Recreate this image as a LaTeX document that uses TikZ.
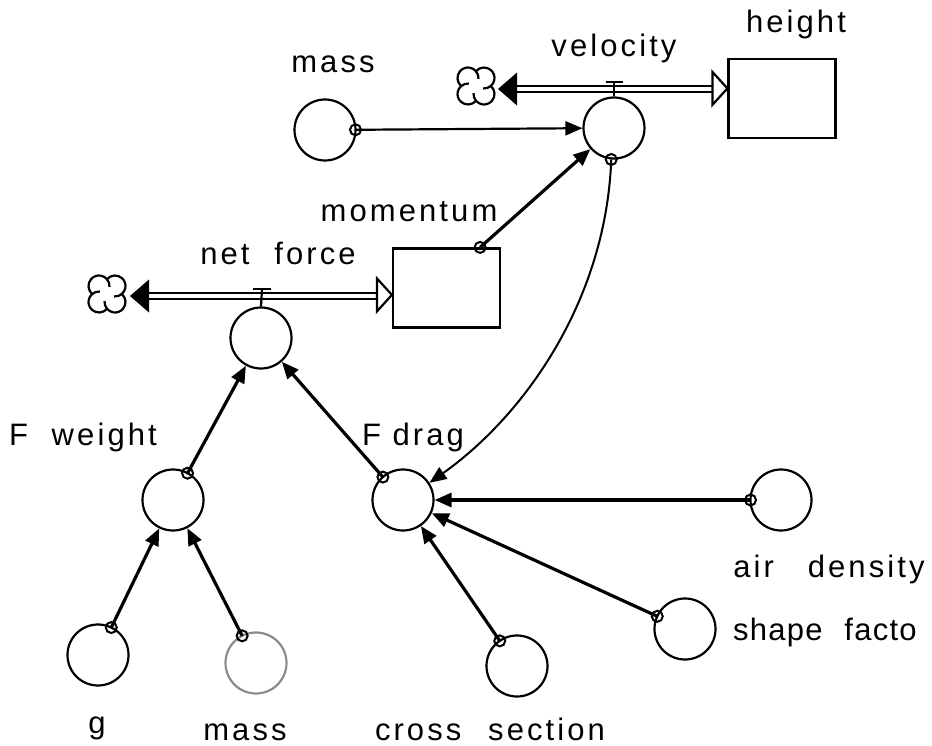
\documentclass[tikz,border=0pt]{standalone}
\usepackage{fontspec}
\setmainfont{Liberation Sans}[LetterSpace=10]
\usetikzlibrary{arrows.meta,calc}
\begin{document}
\begin{tikzpicture}[x=1pt,y=-1pt,
  aux/.style={circle,draw,line width=2.2pt,minimum size=61pt,inner sep=0pt},
  stock/.style={rectangle,draw,line width=2.2pt,minimum width=107pt,minimum height=79pt,inner sep=0pt},
  lbl/.style={anchor=base,inner sep=0pt,font=\fontsize{31pt}{36pt}\selectfont},
  link/.style={line width=3.2pt,-{Triangle[length=17pt,width=14pt]}},
  thinlink/.style={line width=2.2pt,-{Triangle[length=17pt,width=14pt]}},
  curvelink/.style={line width=2pt,-{Triangle[length=17pt,width=14pt]}},
  tail/.style={circle,draw,line width=2pt,minimum size=11pt,inner sep=0pt},
  flowline/.style={draw,double,line width=2.7pt,double distance=3.5pt},
  valve/.style={line width=2.2pt},
  hollowtip/.style={line width=2.2pt,fill=white,line join=miter},
  cloudpic/.pic={
    \filldraw[fill=white,line width=2.2pt] (14.8,0)
      arc[start angle=-49.6,end angle=139.6,radius=10.5]
      arc[start angle=40.4,end angle=229.6,radius=10.5]
      arc[start angle=130.4,end angle=319.6,radius=10.5]
      arc[start angle=220.4,end angle=409.6,radius=10.5] -- cycle;
    \draw[line width=2.2pt] (0,14.8) arc[start angle=139.6,end angle=185,radius=10.5];
    \draw[line width=2.2pt] (-14.8,0) arc[start angle=229.6,end angle=275,radius=10.5];
    \draw[line width=2.2pt] (0,-14.8) arc[start angle=319.6,end angle=365,radius=10.5];
    \draw[line width=2.2pt] (14.8,0) arc[start angle=409.6,end angle=455,radius=10.5];
  }
]
\useasboundingbox (0,0) rectangle (932,746);
\fill[white] (0,0) rectangle (932,746);

% stocks
\node[stock] (height) at (782,98.5) {};
\node[stock] (momentum) at (446.5,288) {};

% auxiliaries / flows
\node[aux] (vel) at (614,128) {};
\node[aux] (massT) at (325,130) {};
\node[aux] (netf) at (261,338) {};
\node[aux] (fweight) at (173,500) {};
\node[aux] (fdrag) at (403,500) {};
\node[aux] (air) at (781,500) {};
\node[aux] (shape) at (685,629) {};
\node[aux] (cross) at (517,666) {};
\node[aux] (g) at (98,655) {};
\node[aux,draw=black!45] (massB) at (256,663) {};

% flow: velocity
\coordinate (cl1) at (476,86);
\coordinate (f1s) at (498,89);
\coordinate (f1e) at ($(height.north west)+(0,30.5)$);
\pic at (cl1) {cloudpic};
\draw[flowline] (517,89) -- (715,89);
\fill (f1s) -- ++(19,-16.5) -- ++(0,33) -- cycle;
\draw[hollowtip] (f1e) -- ++(-15,-16.5) -- ++(0,33) -- cycle;
\draw[valve] (vel.north) -- (614,82);
\draw[valve] (605.5,82) -- (622.5,82);

% flow: net force
\coordinate (cl2) at (107,294);
\coordinate (f2s) at (130,296);
\coordinate (f2e) at ($(momentum.north west)+(0,47.5)$);
\pic at (cl2) {cloudpic};
\draw[flowline] (149,296) -- (380,296);
\fill (f2s) -- ++(19,-16.5) -- ++(0,33) -- cycle;
\draw[hollowtip] (f2e) -- ++(-15,-16.5) -- ++(0,33) -- cycle;
\draw[valve] (netf.north) -- (262,289);
\draw[valve] (253,289) -- (271,289);

% connectors
\node[tail] (t1) at ($(massT)!30.5pt!(vel)$) {};
\draw[thinlink] (t1.center) -- (vel);

\node[tail] (t2) at ($(momentum.north east)+(-21,0)$) {};
\draw[link] (t2.center) -- (vel);

\node[tail] (t3) at (vel.-95) {};
\draw[curvelink] (t3.center) .. controls (606,300) and (525,415) .. (fdrag.33);

\node[tail] (t4) at ($(fweight)!30.5pt!(netf)$) {};
\draw[link] (t4.center) -- (netf);

\node[tail] (t5) at ($(fdrag)!30.5pt!(netf)$) {};
\draw[link] (t5.center) -- (netf);

\node[tail] (t6) at ($(air)!30.5pt!(fdrag)$) {};
\draw[link] (t6.center) -- (fdrag);

\node[tail] (t7) at ($(shape)!30.5pt!(fdrag)$) {};
\draw[link] (t7.center) -- (fdrag);

\node[tail] (t8) at ($(cross)!30.5pt!(fdrag)$) {};
\draw[link] (t8.center) -- (fdrag);

\node[tail] (t9) at ($(g)!30.5pt!(fweight)$) {};
\draw[link] (t9.center) -- (fweight);

\node[tail] (t10) at ($(massB)!30.5pt!(fweight)$) {};
\draw[link] (t10.center) -- (fweight);

% labels
\node[lbl] (lmassT) at (333,73) {mass};
\node[lbl] (lvel) at (614,57) {velocity};
\node[lbl] (lheight) at (796,33) {height};
\node[lbl] (lmom) at (409,222) {momentum};
\node[lbl] (lnetf) at (278,265) {net\hspace{13pt} force};
\node[lbl] (lfw) at (83,445) {F\hspace{12pt} weight};
\node[lbl] (lfd) at (413,445) {F drag};
\node[lbl] (lair) at (829,577) {air\hspace{22pt} density};
\node[lbl,anchor=base west] (lshape) at (733,640) {\addfontfeatures{LetterSpace=4}shape\hspace{12pt} facto};
\node[lbl] (lg) at (97,733) {g};
\node[lbl] (lmassB) at (245,740) {mass};
\node[lbl] (lcross) at (490,740) {cross\hspace{15pt} section};
\end{tikzpicture}
\end{document}
